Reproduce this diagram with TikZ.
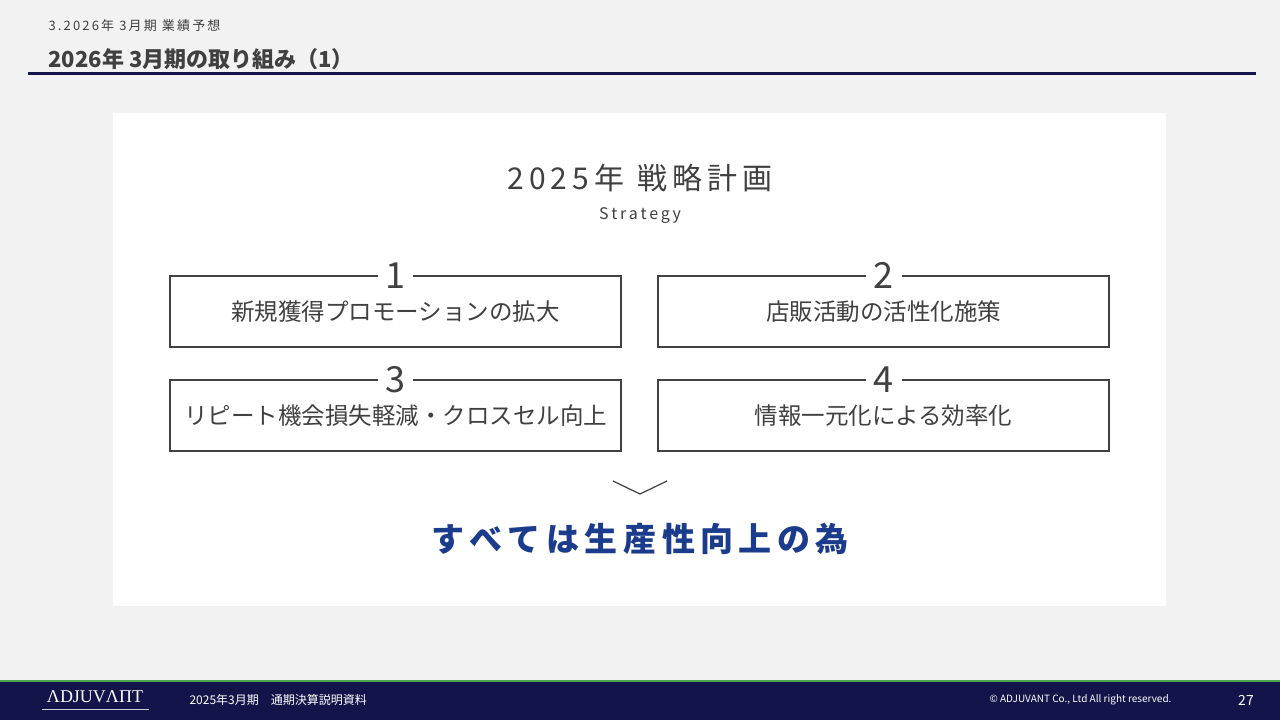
\documentclass[tikz,border=0pt]{standalone}
\usepackage{fontspec}
\setmainfont{Noto Sans CJK JP}
\newfontfamily\logofont{Liberation Serif}
\usetikzlibrary{positioning}
\definecolor{navy}{HTML}{13144A}
\definecolor{textgrey}{HTML}{404040}
\definecolor{panelbg}{HTML}{F2F2F2}
\definecolor{slogan}{HTML}{1B3C8C}
\tikzset{
	stbox/.style={rectangle, draw=textgrey, line width=1.2pt, minimum width=451pt, minimum height=71pt, text centered, font=\fontsize{23.5}{27}\selectfont, text=textgrey},
	stnum/.style={fill=white, inner xsep=8pt, inner ysep=0pt, font=\fontsize{36}{40}\selectfont, text=textgrey},
	foot/.style={text=white, font=\fontsize{12}{14}\selectfont},
}
\begin{document}
\begin{tikzpicture}[x=1pt,y=-1pt]
\useasboundingbox (0,0) rectangle (1280,720);
\fill[panelbg] (0,0) rectangle (1280,720);

% header
\node[anchor=west, text=textgrey, font=\fontsize{13}{15}\selectfont] (sect) at (45,26) {3\,.\,2\,0\,2\,6\,年\ \,3\,月\,期\ \,業\,績\,予\,想};
\node[anchor=west, text=textgrey, font=\fontsize{22}{25}\bfseries] (title) at (45,59) {2026年 3月期の取り組み（1）};
\draw[navy, line width=3pt] (28,73) -- (1256,73);

% panel
\fill[white] (113,113) rectangle (1166,606);
\node[text=textgrey, font=\fontsize{30}{34}\selectfont] (head) at (640,178) {2\,0\,2\,5\,年\ \ 戦\,略\,計\,画};
\node[text=textgrey, font=\fontsize{16}{18}\selectfont] (sub) at (640,216) {S\,t\,r\,a\,t\,e\,g\,y};

\node[stbox] (s1) at (395.5,311.5) {新規獲得プロモーションの拡大};
\node[stbox] (s2) at (883.5,311.5) {店販活動の活性化施策};
\node[stbox] (s3) at (395.5,415.5) {リピート機会損失軽減・クロスセル向上};
\node[stbox] (s4) at (883.5,415.5) {情報一元化による効率化};
\node[stnum] (n1) at (s1.north) {1};
\node[stnum] (n2) at (s2.north) {2};
\node[stnum] (n3) at (s3.north) {3};
\node[stnum] (n4) at (s4.north) {4};

% chevron
\coordinate (cl) at (613,481);
\coordinate (cm) at (640,494);
\coordinate (cr) at (667,481);
\draw[textgrey, line width=1.2pt] (cl) -- (cm) -- (cr);

\node[text=slogan, font=\fontsize{33}{38}\bfseries] (goal) at (640,539) {す\,べ\,て\,は\,生\,産\,性\,向\,上\,の\,為};

% footer
\fill[navy] (0,681) rectangle (1280,720);
\draw[green!50!black!70, line width=1.5pt] (0,681) -- (1280,681);
\node[text=white, font=\logofont\fontsize{18}{20}\selectfont] (logo) at (95,697) {ΛDJUVΛПT};
\draw[white!80!navy, line width=1pt] (42,709) -- (149,709);
\node[foot, anchor=west] (doc) at (186,700) {2025年3月期　通期決算説明資料};
\node[foot, anchor=east, font=\fontsize{10}{12}\selectfont] (copy) at (1175,700) {© ADJUVANT Co., Ltd All right reserved.};
\node[foot, font=\fontsize{14}{16}\selectfont] (page) at (1246,700) {27};
\end{tikzpicture}
\end{document}
